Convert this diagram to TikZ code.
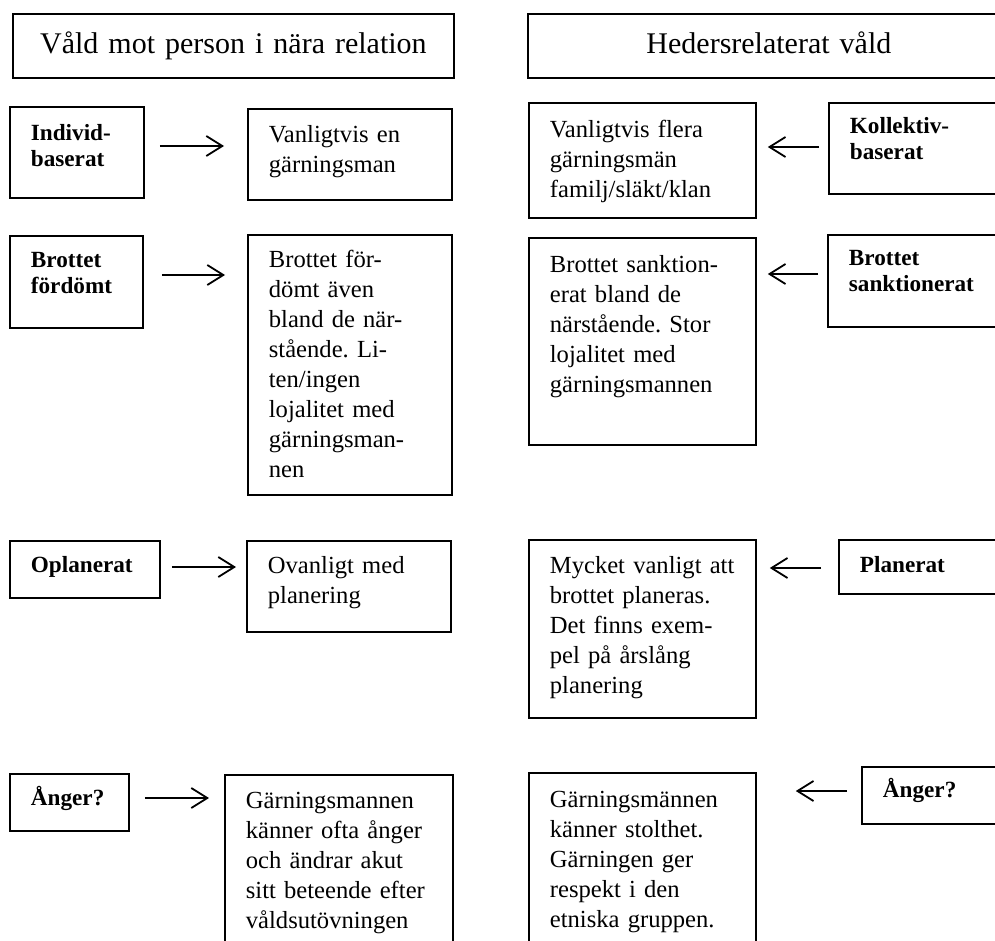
\documentclass[tikz,border=0pt]{standalone}
\usepackage{fontspec}
\setmainfont{Liberation Serif}
\usetikzlibrary{arrows.meta}
\frenchspacing

\begin{document}
\begin{tikzpicture}[x=0.5pt, y=-0.5pt]
            \tikzstyle{header} = [draw, line width=0.9pt, anchor=north west, inner sep=0pt, align=center, font=\fontsize{15}{18}\selectfont]
            \tikzstyle{cause} = [draw, line width=0.9pt, anchor=north west, inner xsep=10.5pt, inner ysep=0pt, align=left, font=\fontsize{11.6}{13}\selectfont\bfseries]
            \tikzstyle{fact} = [draw, line width=0.9pt, anchor=north west, inner xsep=10.5pt, inner ysep=0pt, align=left, font=\fontsize{12.3}{15}\selectfont]
            \tikzstyle{link} = [line width=0.9pt, -{Straight Barb[length=8pt, width=10pt]}]
            \useasboundingbox (0, 0) rectangle (995, 941);
            \clip (0, 0) rectangle (995, 941);

            \node[header, text width=220.5pt, text height=20pt, text depth=12pt] (near) at (12, 13) {Våld mot person i nära relation};
            \node[cause, text width=46pt, text height=17pt, text depth=28.5pt] (ind) at (9, 106) {Individ-\\baserat};
            \node[fact, text width=81pt, text height=17pt, text depth=28.5pt] (en) at (247, 108) {Vanligtvis en\\gärningsman};
            \node[cause, text width=45.5pt, text height=16pt, text depth=30pt] (fd) at (9, 235) {Brottet\\fördömt};
            \node[fact, text width=81pt, text height=16.5pt, text depth=113.5pt] (fdtxt) at (247, 234) {Brottet för-\\dömt även\\bland de när-\\stående. Li-\\ten/ingen\\lojalitet med\\gärningsman-\\nen};
            \node[cause, text width=54pt, text height=16pt, text depth=12.5pt] (opl) at (9, 540) {Oplanerat};
            \node[fact, text width=81pt, text height=16.5pt, text depth=29pt] (opltxt) at (246, 540) {Ovanligt med\\planering};
            \node[cause, text width=38.5pt, text height=16pt, text depth=12.5pt] (ang) at (9, 773) {Ånger?};
            \node[fact, text width=93pt, text height=17pt, text depth=93pt] (angtxt) at (224, 774) {Gärningsmannen\\känner ofta ånger\\och ändrar akut\\sitt beteende efter\\våldsutövningen};

            \draw[link, shorten <=7.5pt, shorten >=11.5pt] (ind.east |- 0,146) -- (en.west |- 0,146);
            \draw[link, shorten <=9pt, shorten >=11pt] (fd.east |- 0,275) -- (fdtxt.west |- 0,275);
            \draw[link, shorten <=5.5pt, shorten >=5pt] (opl.east |- 0,567) -- (opltxt.west |- 0,567);
            \draw[link, shorten <=7.5pt, shorten >=7.5pt] (ang.east |- 0,798) -- (angtxt.west |- 0,798);

            \node[header, text width=241pt, text height=20pt, text depth=12pt] (heder) at (527, 13) {Hedersrelaterat våld};
            \node[fact, text width=92.5pt, text height=17.5pt, text depth=40pt] (flera) at (528, 102) {Vanligtvis flera\\gärningsmän\\familj/släkt/klan};
            \node[cause, text width=89pt, text height=15.5pt, text depth=30pt] (kol) at (828, 102) {Kollektiv-\\baserat};
            \node[fact, text width=92.5pt, text height=17.5pt, text depth=86pt] (sktxt) at (528, 237) {Brottet sanktion-\\erat bland de\\närstående. Stor\\lojalitet med\\gärningsmannen};
            \node[cause, text width=89pt, text height=15.5pt, text depth=30.5pt] (sk) at (827, 234) {Brottet\\sanktionerat};
            \node[fact, text width=92.5pt, text height=17pt, text depth=72pt] (pltxt) at (528, 539) {Mycket~vanligt~att\\brottet planeras.\\Det finns exem-\\pel på årslång\\planering};
            \node[cause, text width=89pt, text height=16.5pt, text depth=10.5pt] (pl) at (838, 539) {Planerat};
            \node[fact, text width=92.5pt, text height=17.5pt, text depth=92.5pt] (stolt) at (528, 772) {Gärningsmännen\\känner stolthet.\\Gärningen ger\\respekt i den\\etniska gruppen.};
            \node[cause, text width=89pt, text height=15.5pt, text depth=13pt] (ang2) at (861, 766) {Ånger?};

            \draw[link, shorten <=4.5pt, shorten >=5.5pt] (kol.west |- 0,147) -- (flera.east |- 0,147);
            \draw[link, shorten <=4.5pt, shorten >=5.5pt] (sk.west |- 0,274) -- (sktxt.east |- 0,274);
            \draw[link, shorten <=8.5pt, shorten >=6.5pt] (pl.west |- 0,568) -- (pltxt.east |- 0,568);
            \draw[link, shorten <=7pt, shorten >=19.5pt] (ang2.west |- 0,791) -- (stolt.east |- 0,791);
\end{tikzpicture}
\end{document}
